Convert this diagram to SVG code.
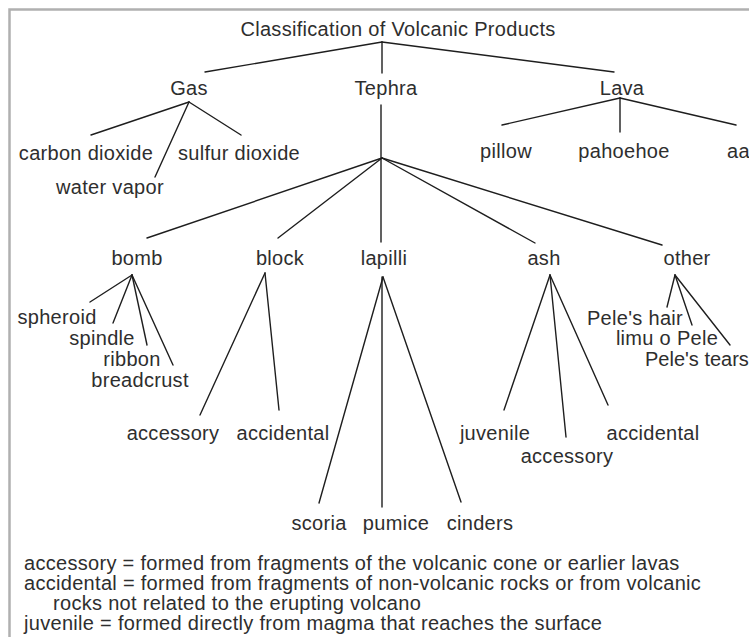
<svg xmlns="http://www.w3.org/2000/svg" width="749" height="637" viewBox="0 0 749 637">
<style>
text{font-family:"Liberation Sans",Arial,sans-serif;font-size:20px;letter-spacing:0.3px;fill:#2e2e2e;text-anchor:middle}
.l{text-anchor:start}
#connectors line{stroke:#1e1e1e;stroke-width:1.4;stroke-linecap:round}
.frame{stroke:#b0b0b0;stroke-width:2.5;fill:none}
</style>
<rect width="749" height="637" fill="#ffffff"/>
<path class="frame" d="M9.5,637 V9.5 H749"/>
<g id="connectors">
<line x1="382" y1="42" x2="205" y2="72"/>
<line x1="382" y1="42" x2="382" y2="73"/>
<line x1="382" y1="42" x2="614" y2="72"/>
<line x1="189" y1="102" x2="91" y2="135"/>
<line x1="189" y1="102" x2="155" y2="177"/>
<line x1="189" y1="102" x2="241" y2="135"/>
<line x1="381" y1="105" x2="381" y2="242"/>
<line x1="382" y1="158" x2="147" y2="238"/>
<line x1="382" y1="158" x2="278" y2="238"/>
<line x1="382" y1="158" x2="535" y2="243"/>
<line x1="382" y1="158" x2="662" y2="245"/>
<line x1="620" y1="98" x2="502" y2="125"/>
<line x1="620" y1="98" x2="620" y2="132"/>
<line x1="620" y1="98" x2="736" y2="125"/>
<line x1="132" y1="275" x2="90" y2="302"/>
<line x1="132" y1="275" x2="113" y2="323"/>
<line x1="132" y1="275" x2="147" y2="345"/>
<line x1="132" y1="275" x2="173" y2="365"/>
<line x1="265" y1="273" x2="200" y2="415"/>
<line x1="265" y1="273" x2="279" y2="410"/>
<line x1="383" y1="277" x2="319" y2="503"/>
<line x1="382" y1="277" x2="382" y2="507"/>
<line x1="383" y1="277" x2="461" y2="502"/>
<line x1="550" y1="275" x2="504" y2="410"/>
<line x1="550" y1="275" x2="566" y2="437"/>
<line x1="550" y1="275" x2="608" y2="405"/>
<line x1="675" y1="275" x2="667" y2="307"/>
<line x1="675" y1="275" x2="692" y2="325"/>
<line x1="675" y1="275" x2="730" y2="345"/>
</g>
<g id="title"><text x="398" y="36">Classification of Volcanic Products</text></g>
<g id="gas"><text x="189" y="95">Gas</text></g>
<g id="tephra"><text x="386" y="95">Tephra</text></g>
<g id="lava"><text x="622" y="95">Lava</text></g>
<g id="carbon-dioxide"><text x="86" y="160">carbon dioxide</text></g>
<g id="sulfur-dioxide"><text x="239" y="160">sulfur dioxide</text></g>
<g id="water-vapor"><text x="110" y="194">water vapor</text></g>
<g id="pillow"><text x="506" y="158">pillow</text></g>
<g id="pahoehoe"><text x="624" y="158">pahoehoe</text></g>
<g id="aa"><text class="l" x="727" y="158">aa</text></g>
<g id="bomb"><text x="137" y="265">bomb</text></g>
<g id="block"><text x="280" y="265">block</text></g>
<g id="lapilli"><text x="384" y="265">lapilli</text></g>
<g id="ash"><text x="544" y="265">ash</text></g>
<g id="other"><text x="687" y="265">other</text></g>
<g id="spheroid"><text x="57" y="324">spheroid</text></g>
<g id="spindle"><text x="102" y="345">spindle</text></g>
<g id="ribbon"><text x="132" y="366">ribbon</text></g>
<g id="breadcrust"><text x="140" y="387">breadcrust</text></g>
<g id="block-accessory"><text x="173" y="440">accessory</text></g>
<g id="block-accidental"><text x="283" y="440">accidental</text></g>
<g id="juvenile"><text x="495" y="440">juvenile</text></g>
<g id="ash-accessory"><text x="567" y="463">accessory</text></g>
<g id="ash-accidental"><text x="653" y="440">accidental</text></g>
<g id="peles-hair"><text x="635" y="325">Pele's hair</text></g>
<g id="limu-o-pele"><text x="667" y="345">limu o Pele</text></g>
<g id="peles-tears"><text class="l" x="645" y="366" style="letter-spacing:0">Pele's tears</text></g>
<g id="scoria"><text x="319" y="530">scoria</text></g>
<g id="pumice"><text x="396" y="530">pumice</text></g>
<g id="cinders"><text x="480" y="530">cinders</text></g>
<g id="legend">
<text class="l" x="24" y="570">accessory = formed from fragments of the volcanic cone or earlier lavas</text>
<text class="l" x="24" y="590">accidental = formed from fragments of non-volcanic rocks or from volcanic</text>
<text class="l" x="53" y="610">rocks not related to the erupting volcano</text>
<text class="l" x="24" y="630">juvenile = formed directly from magma that reaches the surface</text>
</g>
</svg>
